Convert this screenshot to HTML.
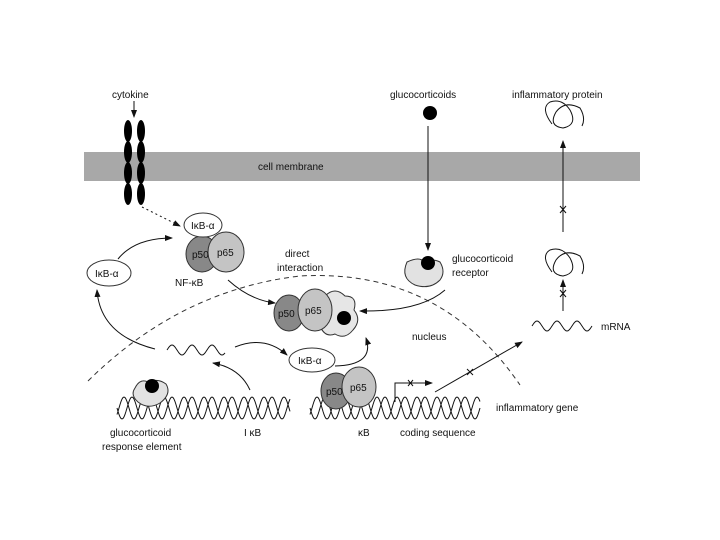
<!DOCTYPE html>
<html><head><meta charset="utf-8"><style>
html,body{margin:0;padding:0;background:#fff;}
svg{display:block;font-family:"Liberation Sans",sans-serif;}
text{font-size:10px;fill:#111;}
</style></head><body>
<svg id="s" width="720" height="540" viewBox="0 0 720 540" xmlns="http://www.w3.org/2000/svg">
<defs>
<marker id="a" markerWidth="8" markerHeight="6" refX="7" refY="3" orient="auto" markerUnits="userSpaceOnUse"><path d="M0,0 L8,3 L0,6 z" fill="#111"/></marker>
</defs>
<g id="waves" fill="none" stroke="#111" stroke-width="1"></g>
<rect x="84" y="152" width="556" height="29" fill="#a8a8a8"/>
<text x="258" y="170">cell membrane</text>
<!-- cytokine receptor -->
<g fill="#000">
<ellipse cx="128" cy="131" rx="4" ry="11"/><ellipse cx="128" cy="152" rx="4" ry="11"/><ellipse cx="128" cy="173" rx="4" ry="11"/><ellipse cx="128" cy="194" rx="4" ry="11"/>
<ellipse cx="141" cy="131" rx="4" ry="11"/><ellipse cx="141" cy="152" rx="4" ry="11"/><ellipse cx="141" cy="173" rx="4" ry="11"/><ellipse cx="141" cy="194" rx="4" ry="11"/>
</g>
<text x="112" y="98">cytokine</text>
<line x1="134" y1="101" x2="134" y2="117" stroke="#111" marker-end="url(#a)"/>
<line x1="142" y1="207" x2="180" y2="226" stroke="#111" stroke-dasharray="2,3" marker-end="url(#a)"/>
<!-- NF-kB -->
<ellipse cx="202" cy="254" rx="16" ry="18" fill="#888" stroke="#333"/>
<ellipse cx="226" cy="252" rx="18" ry="20" fill="#c4c4c4" stroke="#333"/>
<ellipse cx="203" cy="225" rx="19" ry="12" fill="#fff" stroke="#333"/>
<text x="191" y="229">IκB-α</text>
<text x="192" y="258">p50</text><text x="217" y="256">p65</text>
<text x="175" y="286">NF-κB</text>
<ellipse cx="109" cy="273" rx="22" ry="13" fill="#fff" stroke="#333"/>
<text x="95" y="277">IκB-α</text>
<path d="M118,259 Q135,238 172,238" fill="none" stroke="#111" marker-end="url(#a)"/>
<path d="M155,349 Q100,335 97,290" fill="none" stroke="#111" marker-end="url(#a)"/>
<!-- nucleus -->
<path d="M88,381 Q180,290 300,276 Q440,268 520,385" fill="none" stroke="#333" stroke-dasharray="5,4"/>
<text x="285" y="257">direct</text><text x="277" y="271">interaction</text>
<text x="412" y="340">nucleus</text>
<!-- center complex -->
<path d="M325,296 Q335,286 345,296 Q358,296 354,310 Q362,320 353,330 Q345,340 335,334 Q325,338 320,326 Z" fill="#e6e6e6" stroke="#333"/>
<ellipse cx="289" cy="313" rx="15" ry="18" fill="#888" stroke="#333"/>
<ellipse cx="315" cy="310" rx="17" ry="21" fill="#c4c4c4" stroke="#333"/>
<circle cx="344" cy="318" r="7" fill="#000"/>
<text x="278" y="317">p50</text><text x="305" y="314">p65</text>
<path d="M228,280 Q250,300 275,303" fill="none" stroke="#111" marker-end="url(#a)"/>
<path d="M445,290 Q420,312 360,311" fill="none" stroke="#111" marker-end="url(#a)"/>
<!-- glucocorticoid receptor -->
<circle cx="430" cy="113" r="7" fill="#000"/>
<text x="390" y="98">glucocorticoids</text>
<line x1="428" y1="126" x2="428" y2="250" stroke="#111" marker-end="url(#a)"/>
<path d="M407,262 Q420,256 424,262 Q432,258 440,262 Q446,272 440,280 Q430,290 415,285 Q400,278 407,262 Z" fill="#e2e2e2" stroke="#333"/>
<circle cx="428" cy="263" r="7" fill="#000"/>
<text x="452" y="262">glucocorticoid</text><text x="452" y="276">receptor</text>
<!-- right column -->
<text x="512" y="98">inflammatory protein</text>
<path d="M552,124 Q540,108 550,102 Q562,98 570,110 Q578,125 563,128 Q548,126 556,112 Q565,100 580,108 Q586,118 582,126" fill="none" stroke="#111"/>
<line x1="563" y1="232" x2="563" y2="141" stroke="#111" marker-end="url(#a)"/>
<path d="M560,206 l6,7 M566,206 l-6,7" stroke="#111"/>
<path d="M552,272 Q540,256 550,250 Q562,246 570,258 Q578,273 563,276 Q548,274 556,260 Q565,248 580,256 Q586,266 582,274" fill="none" stroke="#111"/>
<line x1="563" y1="311" x2="563" y2="280" stroke="#111" marker-end="url(#a)"/>
<path d="M560,290 l6,7 M566,290 l-6,7" stroke="#111"/>
<text x="601" y="330">mRNA</text>
<!-- lower -->
<path d="M235,347 Q265,335 287,355" fill="none" stroke="#111" marker-end="url(#a)"/>
<ellipse cx="312" cy="360" rx="23" ry="12" fill="#fff" stroke="#333"/>
<text x="298" y="364">IκB-α</text>
<path d="M335,366 Q375,365 366,338" fill="none" stroke="#111" marker-end="url(#a)"/>
<path d="M250,390 Q240,368 213,363" fill="none" stroke="#111" marker-end="url(#a)"/>
<path d="M135,388 Q140,378 148,382 Q158,378 166,384 Q172,394 160,403 Q148,410 138,402 Q130,395 135,388 Z" fill="#e2e2e2" stroke="#333"/>
<circle cx="152" cy="386" r="7" fill="#000"/>
<ellipse cx="336" cy="391" rx="15" ry="18" fill="#888" stroke="#333"/>
<ellipse cx="359" cy="387" rx="17" ry="20" fill="#c4c4c4" stroke="#333"/>
<text x="326" y="395">p50</text><text x="350" y="391">p65</text>
<path d="M395,402 V383 H432" fill="none" stroke="#111" marker-end="url(#a)"/>
<path d="M408,380 l5,6 M413,380 l-5,6" stroke="#111"/>
<line x1="435" y1="392" x2="522" y2="342" stroke="#111" marker-end="url(#a)"/>
<path d="M467,369 l6,6 M473,369 l-6,6" stroke="#111"/>
<text x="496" y="411">inflammatory gene</text>
<text x="110" y="436">glucocorticoid</text>
<text x="102" y="450">response element</text>
<text x="244" y="436">I κB</text>
<text x="358" y="436">κB</text>
<text x="400" y="436">coding sequence</text>
</svg>
<script>
function sine(x0,x1,y,A,P,ph){var d="";for(var x=x0;x<=x1;x+=1){var v=y+A*Math.sin((x-x0)/P*2*Math.PI+ph);d+=(x==x0?"M":"L")+x+","+v.toFixed(1);}return d;}
var g=document.getElementById("waves"),ps=[
sine(117,290,408,11,20,0),sine(117,290,408,11,20,Math.PI*0.8),
sine(310,480,408,11,20,0),sine(310,480,408,11,20,Math.PI*0.8),
sine(167,225,350,5,20,Math.PI),sine(532,592,326,5,20,Math.PI)];
ps.forEach(function(d){var p=document.createElementNS("http://www.w3.org/2000/svg","path");p.setAttribute("d",d);g.appendChild(p);});
</script>
</body></html>
